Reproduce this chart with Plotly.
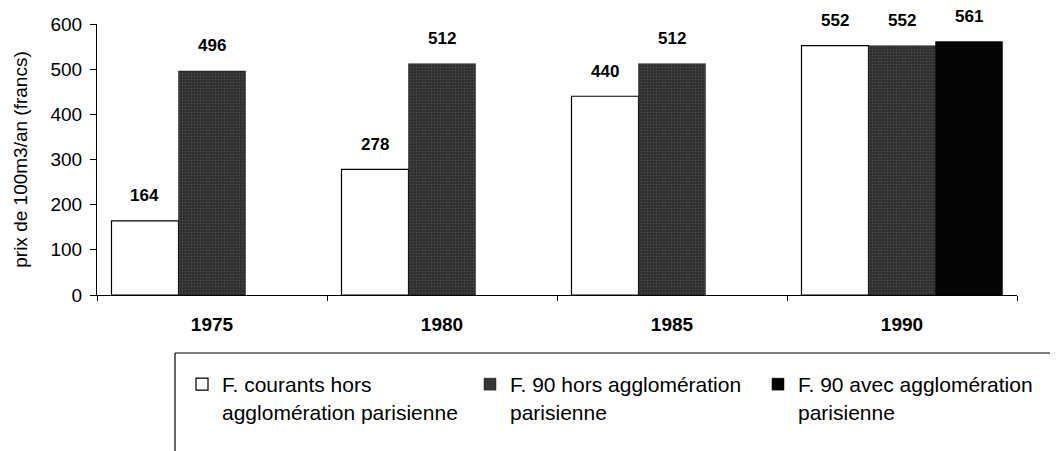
import plotly.graph_objects as go

# années et prix (francs pour 100 m3 / an)
annees = ['1975', '1980', '1985', '1990']
courants_hors_paris = [164, 278, 440, 552]
f90_hors_paris = [496, 512, 512, 552]
f90_avec_paris = [None, None, None, 561]

noms = ['F. courants hors<br>agglomération parisienne',
        'F. 90 hors agglomération<br>parisienne',
        'F. 90 avec agglomération<br>parisienne']

# la page html ajoute une marge de 8 px autour de la figure
W, H = 1050, 443
ml, mr, mt, mb = 89, 41, 16, 156
bargap = 0.126

fig = go.Figure()
fig.add_trace(go.Bar(
    x=annees, y=courants_hors_paris, name=noms[0],
    marker=dict(color='white', line=dict(color='black', width=1.2)),
))
fig.add_trace(go.Bar(
    x=annees, y=f90_hors_paris, name=noms[1],
    marker=dict(color='#2e2e2e', line=dict(color='#1a1a1a', width=0.5),
                pattern=dict(shape='.', fgcolor='#6e6e6e', bgcolor='#2e2e2e',
                             size=3, solidity=0.25)),
))
fig.add_trace(go.Bar(
    x=annees, y=f90_avec_paris, name=noms[2],
    marker=dict(color='#050505', line=dict(color='black', width=0.5)),
))

# étiquettes de valeurs au-dessus des barres
# (sur un axe catégoriel, x est donné par l'indice de la catégorie)
pw = W - ml - mr
slot = pw / len(annees) * (1 - bargap) / 3
for k, serie in enumerate([courants_hors_paris, f90_hors_paris, f90_avec_paris]):
    for i, v in enumerate(serie):
        if v is None:
            continue
        fig.add_annotation(x=i, y=v, text=f'<b>{v}</b>', showarrow=False,
                           xshift=(k - 1) * slot, yshift=25, yanchor='middle',
                           font=dict(family='Liberation Sans, Arial', size=17, color='black'))

# cadre de la légende (bord haut et gauche seulement)
ph = H - mt - mb
x0 = (167 - ml) / pw
x1 = (W + 5 - ml) / pw
y0 = (H - mb - 345) / ph
y1 = (H - mb - H - 5) / ph
fig.add_shape(type='line', xref='paper', yref='paper', x0=x0, x1=x1, y0=y0, y1=y0,
              line=dict(color='black', width=1.2))
fig.add_shape(type='line', xref='paper', yref='paper', x0=x0, x1=x0, y0=y0, y1=y1,
              line=dict(color='black', width=1.2))

fig.update_layout(
    width=W, height=H,
    margin=dict(l=ml, r=mr, t=mt, b=mb, autoexpand=False),
    paper_bgcolor='white', plot_bgcolor='white',
    barmode='group', bargap=bargap, bargroupgap=0,
    font=dict(family='Liberation Sans, Arial', color='black'),
    showlegend=True,
    legend=dict(
        orientation='h', xref='container', yref='container',
        x=174 / W, y=(H - 356) / H, xanchor='left', yanchor='top',
        valign='top', entrywidth=243, entrywidthmode='pixels',
        font=dict(size=21, family='Liberation Sans, Arial'),
        bgcolor='rgba(0,0,0,0)', traceorder='normal',
    ),
    xaxis=dict(
        type='category', categoryorder='array', categoryarray=annees,
        showline=True, linecolor='black', linewidth=1.2,
        ticks='outside', ticklen=5, tickcolor='black', tickson='boundaries',
        tickfont=dict(size=19, family='Liberation Sans, Arial'),
        tickprefix='<b>', ticksuffix='</b>', ticklabelstandoff=12,
        showgrid=False, zeroline=False,
    ),
    yaxis=dict(
        range=[0, 600], dtick=100,
        showline=True, linecolor='black', linewidth=1.2,
        ticks='outside', ticklen=6, tickcolor='black',
        tickfont=dict(size=19, family='Liberation Sans, Arial'),
        ticklabelstandoff=4,
        showgrid=False, zeroline=False,
        title=dict(text='prix de 100m3/an (francs)', standoff=17,
                   font=dict(size=19, family='Liberation Sans Narrow, Liberation Sans, Arial')),
    ),
)

fig.write_html('out.html')
